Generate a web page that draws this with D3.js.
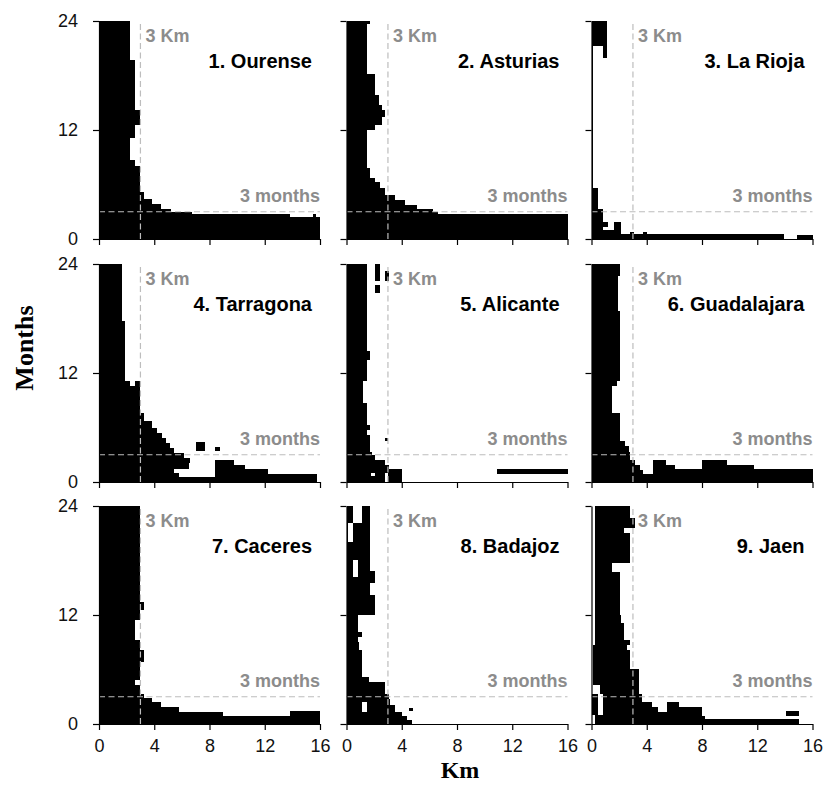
<!DOCTYPE html>
<html lang="en">
<head>
<meta charset="utf-8">
<title>Months by Km</title>
<script src="https://cdn.jsdelivr.net/npm/d3@7"></script>
<style>
  body { margin: 0; background: #fff; }
  svg { display: block; }
</style>
</head>
<body>
<div id="chart"></div>
<script>
// panel titles and axes
const panelNames = ["1. Ourense", "2. Asturias", "3. La Rioja",
                    "4. Tarragona", "5. Alicante", "6. Guadalajara",
                    "7. Caceres", "8. Badajoz", "9. Jaen"];
const kmTicks = [0, 4, 8, 12, 16];
const monthTicks = [0, 12, 24];
const kmLimit = 3;
const monthLimit = 3;

// black cells, each [kmFrom, kmTo, monthFrom, monthTo]
const ourense = [
  [0, 2.24, 19.7, 24], [0, 2.6, 14.2, 19.7], [0, 2.96, 12.55, 14.2], [0, 2.6, 11.15, 12.55],
  [0, 2.24, 8.7, 11.15], [0, 2.6, 8.07, 8.7], [0, 2.96, 5.2, 8.07], [0, 3.25, 4.37, 5.2],
  [0, 3.85, 3.8, 4.37], [0, 4.5, 3.27, 3.8], [0, 5.2, 3.0, 3.27], [0, 6.7, 2.75, 3.0],
  [0, 13.8, 2.46, 2.75], [15.5, 15.7, 2.46, 2.75], [0, 16, 0, 2.46]
];
const asturias = [
  [0, 1.71, 23.63, 24], [0, 1.51, 18.13, 23.63], [0, 2.08, 15.85, 18.13], [0, 2.32, 14.75, 15.85],
  [0, 2.56, 14.2, 14.75], [0, 2.76, 13.47, 14.2], [0, 2.56, 12.55, 13.47], [0, 2.08, 12.0, 12.55],
  [0, 1.51, 7.78, 12.0], [0, 1.71, 6.75, 7.78], [0, 2.08, 6.24, 6.75], [0, 2.44, 5.65, 6.24],
  [0, 2.81, 4.84, 5.65], [0, 3.49, 4.29, 4.84], [0, 4.27, 3.74, 4.29], [0, 5.13, 3.27, 3.74],
  [0, 6.23, 3.0, 3.27], [0, 6.6, 2.75, 3.0], [0, 16, 0, 2.75]
];
const laRioja = [
  [0, 1.09, 21.2, 24], [0.8, 1.14, 19.9, 21.2], [0, 0.12, 5.65, 21.2], [0, 0.48, 3.3, 5.65],
  [0, 0.82, 0.55, 3.3], [0.82, 1.2, 1.28, 1.83], [0.82, 1.6, 0.55, 0.95], [1.6, 2.1, 0.55, 1.83],
  [2.8, 3.1, 0.44, 0.8], [3.7, 4.0, 0.44, 0.8], [0, 13.96, 0, 0.55], [14.9, 16, 0, 0.44]
];
const tarragona = [
  [0, 1.68, 17.76, 24], [0, 1.88, 11.16, 17.76], [0, 2.24, 10.6, 11.16], [2.6, 2.96, 10.6, 11.16],
  [0, 2.96, 7.6, 10.6], [0, 3.25, 6.75, 7.6], [0, 3.85, 5.94, 6.75], [0, 4.2, 5.4, 5.94],
  [0, 4.57, 4.84, 5.4], [0, 4.88, 4.29, 4.84], [0, 5.17, 3.74, 4.29], [0, 5.4, 3.2, 3.74],
  [0, 6.13, 2.64, 3.2], [0, 6.6, 2.09, 2.64], [0, 6.5, 1.47, 2.09], [0, 5.4, 0.99, 1.47],
  [0, 5.77, 0.55, 0.99], [0, 15.76, 0, 0.55], [8.42, 9.74, 0.55, 2.46], [9.74, 10.6, 0.55, 1.9],
  [10.6, 12.27, 0.55, 1.47], [12.27, 15.76, 0.55, 0.88], [7.05, 7.7, 3.38, 4.37], [8.42, 8.73, 3.38, 3.82]
];
const alicante = [
  [0, 1.51, 14.4, 24], [0, 1.71, 13.47, 14.4], [0, 1.51, 11.08, 13.47], [0, 1.22, 8.7, 11.08],
  [0, 1.51, 6.31, 8.7], [0, 1.71, 5.76, 6.31], [0, 1.51, 5.21, 5.76], [0, 1.71, 3.27, 5.21],
  [0, 1.83, 3.0, 3.27], [0, 2.08, 2.46, 3.0], [0, 2.76, 1.9, 2.46], [0, 3.05, 1.43, 1.9],
  [0, 4.03, 1.0, 1.43], [0, 2.8, 0, 1.0], [3.0, 4.03, 0, 1.0], [2.08, 2.44, 22.1, 24],
  [2.08, 2.44, 20.8, 21.7], [2.82, 3.05, 22.1, 23.2], [2.8, 3.0, 4.48, 4.84], [10.87, 16, 0.92, 1.47]
];
const guadalajara = [
  [0, 2.06, 22.64, 24], [0, 1.94, 18.8, 22.64], [0, 2.06, 11.08, 18.8], [0, 1.82, 10.53, 11.08],
  [0, 1.5, 7.6, 10.53], [0, 2.06, 4.48, 7.6], [0, 2.42, 3.93, 4.48], [0, 2.74, 3.27, 3.93],
  [0, 2.79, 2.46, 3.27], [0, 3.15, 1.9, 2.46], [0, 3.52, 1.36, 1.9], [0, 3.7, 0.88, 1.36],
  [0, 16, 0, 0.88], [4.44, 5.4, 0.88, 2.46], [5.4, 6.06, 0.88, 1.9], [6.06, 8.0, 0.88, 1.43],
  [8.0, 9.82, 0.88, 2.46], [9.82, 11.76, 0.88, 1.9], [11.76, 16, 0.88, 1.43]
];
const caceres = [
  [0, 2.96, 13.47, 24], [0, 3.25, 12.55, 13.47], [0, 2.96, 11.45, 12.55], [0, 2.6, 9.25, 11.45],
  [0, 2.96, 8.15, 9.25], [0, 3.25, 6.86, 8.15], [0, 2.96, 4.84, 6.86], [0, 2.6, 4.29, 4.84],
  [0, 2.96, 3.27, 4.29], [0, 3.25, 2.83, 3.27], [0, 3.85, 2.46, 2.83], [0, 4.5, 1.9, 2.46],
  [0, 5.77, 1.36, 1.9], [0, 8.97, 0.88, 1.36], [13.84, 16, 0.88, 1.43], [0, 16, 0, 0.88]
];
const badajoz = [
  [0, 0.49, 22.1, 24], [1.1, 1.71, 22.1, 24], [0, 0.12, 20.07, 22.1], [0.49, 1.71, 20.07, 22.1],
  [0, 1.71, 16.8, 20.07], [0, 2.08, 15.5, 16.8], [0, 1.71, 14.2, 15.5], [0, 2.08, 12.0, 14.2],
  [0, 0.8, 10.17, 12.0], [0, 1.1, 9.6, 10.17], [0, 0.8, 9.07, 9.6], [0, 0.9, 8.15, 9.07],
  [0, 1.1, 5.21, 8.15], [0, 1.66, 4.66, 5.21], [0, 2.76, 3.27, 4.66], [0, 3.05, 2.72, 3.27],
  [0, 3.18, 2.09, 2.72], [0, 3.49, 1.36, 2.09], [0, 4.03, 0.88, 1.36], [0, 4.4, 0.44, 0.88],
  [0, 4.76, 0, 0.44], [4.5, 4.8, 1.4, 1.8]
];
const jaen = [
  [0.24, 2.79, 22.64, 24], [0.24, 3.15, 21.54, 22.64], [0.24, 2.38, 21.0, 21.54], [0.24, 2.79, 17.69, 21.0],
  [0.24, 1.5, 16.77, 17.69], [0.24, 2.06, 12.0, 16.77], [0.24, 2.13, 11.08, 12.0], [0.24, 2.38, 9.25, 11.08],
  [0.24, 2.79, 8.7, 9.25], [0.12, 2.55, 8.15, 8.7], [0.12, 2.79, 6.1, 8.15], [0.12, 3.47, 4.3, 6.1],
  [0.6, 3.47, 3.27, 4.3], [0, 0.48, 1.0, 3.27], [0.85, 3.64, 2.46, 3.27], [0.85, 4.36, 1.9, 2.46],
  [0.85, 4.78, 1.36, 1.9], [0.85, 5.45, 0.5, 1.36], [0.24, 0.85, 0.5, 1.0], [5.45, 6.3, 0.5, 2.39],
  [6.3, 8.0, 0.5, 1.9], [8.0, 8.24, 0.5, 0.88], [0.24, 15.03, 0, 0.5], [14.1, 15.03, 0.92, 1.43]
];

// white holes inside the black areas, same layout
const alicanteGaps = [[1.78, 2.08, 0.62, 0.99]];
const badajozGaps = [[0.49, 0.8, 16.2, 18.05], [1.15, 1.51, 1.36, 2.46]];

const panelCells = [ourense, asturias, laRioja, tarragona, alicante, guadalajara, caceres, badajoz, jaen];
const panelGaps = [[], [], [], [], alicanteGaps, [], [], badajozGaps, []];

const width = 825, height = 785;
const colLeft = [99, 346.5, 591.5];
const rowTop = [21, 264, 506];
const pw = 221, ph = 218;
const sans = "'Liberation Sans', Arial, sans-serif";
const serif = "'Liberation Serif', 'Times New Roman', serif";

const svg = d3.select("#chart").append("svg")
    .attr("width", width)
    .attr("height", height);

const x = d3.scaleLinear().domain([0, 16]).range([0, pw]);
const y = d3.scaleLinear().domain([0, 24]).range([ph, 0]);

const drawRects = (g, data, color) => {
    g.selectAll(null)
        .data(data)
        .enter()
        .append("rect")
        .attr("x", d => x(d[0]))
        .attr("y", d => y(d[3]))
        .attr("width", d => x(d[1]) - x(d[0]))
        .attr("height", d => y(d[2]) - y(d[3]))
        .attr("fill", color)
        .attr("shape-rendering", "crispEdges");
};

panelNames.forEach((name, i) => {
    const col = i % 3, row = Math.floor(i / 3);
    const g = svg.append("g")
        .attr("transform", "translate(" + colLeft[col] + "," + rowTop[row] + ")");

    drawRects(g, panelCells[i], "#000");
    drawRects(g, panelGaps[i], "#fff");

    // reference lines
    g.append("line")
        .attr("x1", x(kmLimit)).attr("x2", x(kmLimit))
        .attr("y1", y(0)).attr("y2", y(24))
        .attr("stroke", "#bdbdbd").attr("stroke-width", 1.2)
        .attr("stroke-dasharray", "6,3.5");
    g.append("line")
        .attr("x1", x(0)).attr("x2", x(16))
        .attr("y1", y(monthLimit)).attr("y2", y(monthLimit))
        .attr("stroke", "#bdbdbd").attr("stroke-width", 1.2)
        .attr("stroke-dasharray", "6,3.5");

    g.append("text")
        .attr("x", x(kmLimit) + 5)
        .attr("y", 21)
        .attr("font-family", sans).attr("font-weight", "bold")
        .attr("font-size", 18).attr("fill", "#8c8c8c")
        .text("3 Km");
    g.append("text")
        .attr("x", x(16))
        .attr("y", y(monthLimit) - 10)
        .attr("text-anchor", "end")
        .attr("font-family", sans).attr("font-weight", "bold")
        .attr("font-size", 18).attr("fill", "#8c8c8c")
        .text("3 months");

    g.append("text")
        .attr("x", x(16) - 8)
        .attr("y", 47)
        .attr("text-anchor", "end")
        .attr("font-family", sans).attr("font-weight", "bold")
        .attr("font-size", 20).attr("fill", "#000")
        .text(name);

    // axes
    const yAxis = g.append("g")
        .call(d3.axisLeft(y).tickValues(monthTicks).tickSize(6).tickSizeOuter(0)
            .tickPadding(15).tickFormat(col === 0 ? d3.format("d") : ""));
    const xAxis = g.append("g")
        .attr("transform", "translate(0," + ph + ")")
        .call(d3.axisBottom(x).tickValues(kmTicks).tickSize(6).tickSizeOuter(0)
            .tickPadding(9).tickFormat(row === 2 ? d3.format("d") : ""));

    [yAxis, xAxis].forEach(a => {
        a.attr("font-family", sans).attr("font-size", 18);
        a.selectAll("path, line").attr("stroke", "#000").attr("stroke-width", 1.2);
        a.selectAll("text").attr("fill", "#111");
    });
});

svg.append("text")
    .attr("transform", "translate(33,348) rotate(-90)")
    .attr("text-anchor", "middle")
    .attr("font-family", serif).attr("font-weight", "bold")
    .attr("font-size", 26)
    .text("Months");

svg.append("text")
    .attr("x", 460)
    .attr("y", 778)
    .attr("text-anchor", "middle")
    .attr("font-family", serif).attr("font-weight", "bold")
    .attr("font-size", 24)
    .text("Km");
</script>
</body>
</html>
